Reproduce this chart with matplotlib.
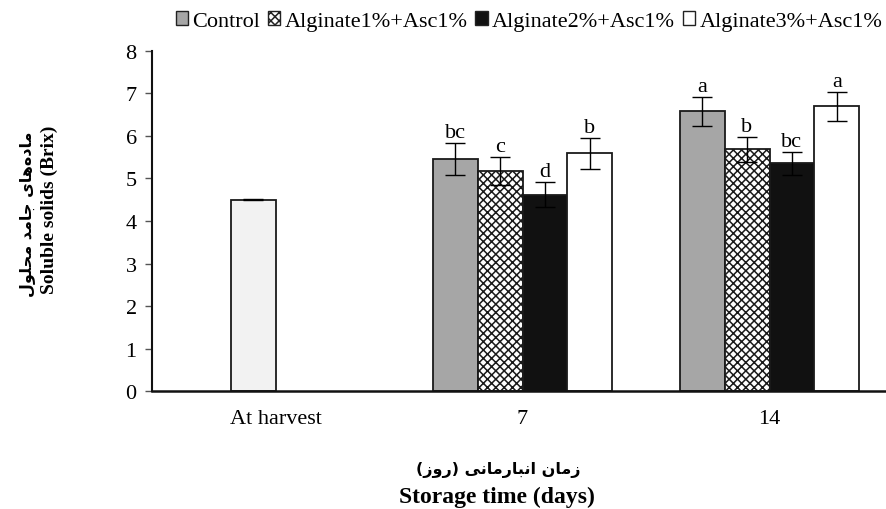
import numpy as np
import matplotlib
matplotlib.use("Agg")
import matplotlib.pyplot as plt
from matplotlib.patches import Patch

# ---------------- data ----------------
categories = ["At harvest", "7", "14"]
series_names = ["Control", "Alginate1%+Asc1%", "Alginate2%+Asc1%", "Alginate3%+Asc1%"]
harvest_value = [4.50]
harvest_err = [0.01]
control = [np.nan, 5.46, 6.58]
alg1 = [np.nan, 5.17, 5.68]
alg2 = [np.nan, 4.62, 5.36]
alg3 = [np.nan, 5.59, 6.70]
control_err = [0, 0.37, 0.34]
alg1_err = [0, 0.33, 0.30]
alg2_err = [0, 0.30, 0.27]
alg3_err = [0, 0.36, 0.34]
control_let = ["", "bc", "a"]
alg1_let = ["", "c", "b"]
alg2_let = ["", "d", "bc"]
alg3_let = ["", "b", "a"]
yticks = [0, 1, 2, 3, 4, 5, 6, 7, 8]
ylabel_fa = "ماده\u200cهای جامد محلول"
ylabel_en = "Soluble solids (Brix)"
xlabel_fa = "زمان انبارمانی (روز)"
xlabel_en = "Storage time (days)"

# ---------------- simple Persian shaping ----------------
FORMS = {
    '\u0627': ('\uFE8D', '\uFE8E', None, None),
    '\u0628': ('\uFE8F', '\uFE90', '\uFE91', '\uFE92'),
    '\u062C': ('\uFE9D', '\uFE9E', '\uFE9F', '\uFEA0'),
    '\u062D': ('\uFEA1', '\uFEA2', '\uFEA3', '\uFEA4'),
    '\u062F': ('\uFEA9', '\uFEAA', None, None),
    '\u0631': ('\uFEAD', '\uFEAE', None, None),
    '\u0632': ('\uFEAF', '\uFEB0', None, None),
    '\u0644': ('\uFEDD', '\uFEDE', '\uFEDF', '\uFEE0'),
    '\u0645': ('\uFEE1', '\uFEE2', '\uFEE3', '\uFEE4'),
    '\u0646': ('\uFEE5', '\uFEE6', '\uFEE7', '\uFEE8'),
    '\u0647': ('\uFEE9', '\uFEEA', '\uFEEB', '\uFEEC'),
    '\u0648': ('\uFEED', '\uFEEE', None, None),
    '\u06CC': ('\uFBFC', '\uFBFD', '\uFBFE', '\uFBFF'),
}


def shape(s):
    out = []
    n = len(s)
    for i, c in enumerate(s):
        if c not in FORMS:
            out.append(c)
            continue
        f = FORMS[c]
        prev = s[i - 1] if i > 0 else ''
        nxt = s[i + 1] if i + 1 < n else ''
        jp = prev in FORMS and FORMS[prev][2] is not None
        jn = f[2] is not None and nxt in FORMS
        if jp and jn:
            g = f[3]
        elif jp:
            g = f[1]
        elif jn:
            g = f[2]
        else:
            g = f[0]
        out.append(g)
    vis = ''.join(out).replace('\u200c', '')[::-1]
    return vis.translate(str.maketrans('()', ')('))


plt.rcParams['font.family'] = ['Liberation Serif', 'DejaVu Serif']
plt.rcParams['hatch.linewidth'] = 1.1

W, H = 886, 510
fig = plt.figure(figsize=(W / 100, H / 100), dpi=100)
ax = fig.add_axes([152 / W, 1 - 392.3 / H, (893 - 152) / W, (392.3 - 51.7) / H])

x = np.arange(len(categories))
w = 0.182
edge = '#1a1a1a'
styles = [
    dict(facecolor='#a6a6a6', edgecolor=edge, hatch=None),
    dict(facecolor='white', edgecolor=edge, hatch='xxxx'),
    dict(facecolor='#111111', edgecolor=edge, hatch=None),
    dict(facecolor='white', edgecolor=edge, hatch=None),
]
vals = [control, alg1, alg2, alg3]
errs = [control_err, alg1_err, alg2_err, alg3_err]
lets = [control_let, alg1_let, alg2_let, alg3_let]
offsets = [-1.5, -0.5, 0.5, 1.5]

# harvest bar
hx = x[0] - 0.5 * w
ax.bar([hx], harvest_value, width=w, facecolor='#f2f2f2', edgecolor=edge, linewidth=1.3, zorder=2)
ax.errorbar([hx], harvest_value, yerr=harvest_err, fmt='none', ecolor='black',
            elinewidth=1.0, capsize=7, capthick=1.0, zorder=3)

for k in range(4):
    st = styles[k]
    xs = x[1:] + offsets[k] * w
    v = np.array(vals[k][1:])
    e = np.array(errs[k][1:])
    ax.bar(xs, v, width=w, facecolor=st['facecolor'], edgecolor=st['edgecolor'],
           hatch=st['hatch'], linewidth=1.3, zorder=2)
    ax.errorbar(xs, v, yerr=e, fmt='none', ecolor='black', elinewidth=1.0,
                capsize=7, capthick=1.0, zorder=3)
    for xi, vi, ei, li in zip(xs, v, e, lets[k][1:]):
        ax.text(xi, vi + ei + 0.02, li, ha='center', va='bottom', fontsize=16)

ax.set_xlim(-0.5, 2.5)
ax.set_ylim(0, 8)
ax.set_yticks(yticks)
ax.set_yticklabels([str(t) for t in yticks], fontsize=16)
ax.set_xticks(x)
ax.set_xticklabels(categories, fontsize=16)
ax.tick_params(axis='x', length=0, pad=13)
ax.tick_params(axis='y', length=5, width=1, color='#555555', pad=6)
for s in ['top', 'right']:
    ax.spines[s].set_visible(False)
ax.spines['left'].set_linewidth(1.5)
ax.spines['bottom'].set_linewidth(1.8)
ax.spines['left'].set_color('#111111')
ax.spines['bottom'].set_color('#111111')

# axis labels
fig.text(27 / W, 1 - 214 / H, shape(ylabel_fa), rotation=90, ha='center', va='center',
         fontsize=11.5, fontweight='bold', family=['DejaVu Sans'])
fig.text(49 / W, 1 - 210 / H, ylabel_en, rotation=90, ha='center', va='center',
         fontsize=14, fontweight='bold')
fig.text(498 / W, 1 - 470 / H, shape(xlabel_fa), ha='center', va='center',
         fontsize=11.5, fontweight='bold', family=['DejaVu Sans'])
fig.text(497 / W, 1 - 497 / H, xlabel_en, ha='center', va='center',
         fontsize=17, fontweight='bold')

# legend
handles = [Patch(facecolor=st['facecolor'], edgecolor='#222222', hatch=st['hatch'], linewidth=1.0)
           for st in styles]
fig.legend(handles, series_names, loc='center', bbox_to_anchor=(529 / W, 1 - 22 / H),
           ncol=4, frameon=False, fontsize=16, handlelength=0.55, handleheight=0.55,
           handletextpad=0.2, columnspacing=0.35, borderpad=0, borderaxespad=0)

fig.savefig('out.png', dpi=100)
